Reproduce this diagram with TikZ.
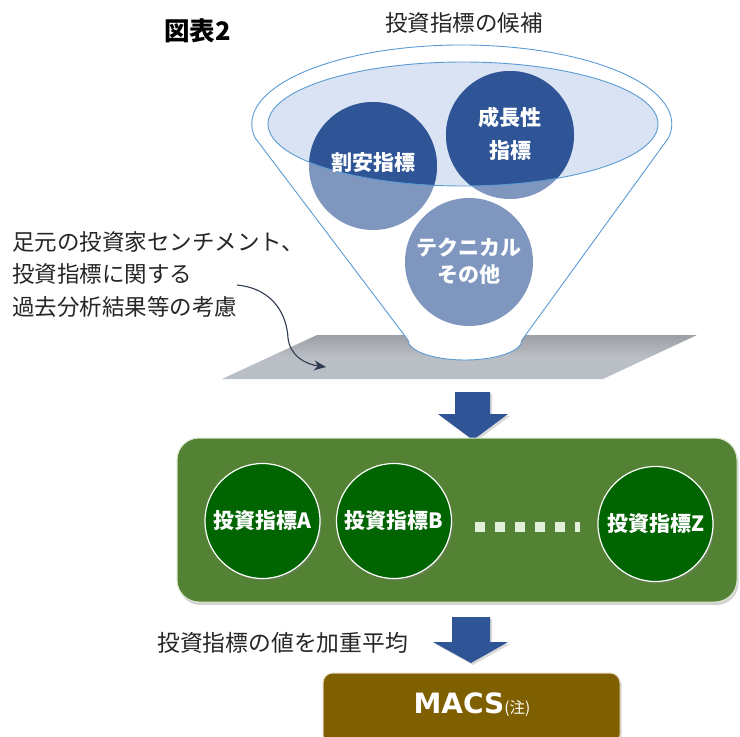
\documentclass[tikz,border=0pt]{standalone}
\usepackage{fontspec}
\setmainfont{Noto Sans CJK JP}
\newfontfamily\verd{DejaVu Sans}
\usetikzlibrary{shadows,arrows.meta}
\definecolor{fblue}{HTML}{5B9BD5}
\definecolor{lblue}{HTML}{DAE3F3}
\definecolor{dblue}{HTML}{2F5597}
\definecolor{mblue}{HTML}{7F96BF}
\definecolor{gboxc}{HTML}{548235}
\definecolor{gcirc}{HTML}{006400}
\definecolor{gsq}{HTML}{E2F0D9}
\definecolor{macsc}{HTML}{7F6000}
\definecolor{txt}{HTML}{262626}
\definecolor{navy}{HTML}{2E3A50}
\definecolor{plA}{HTML}{9C9FA5}
\definecolor{plB}{HTML}{BABEC5}
\begin{document}
\begin{tikzpicture}[x=1pt,y=1pt,
  lbl/.style={text=txt, font=\fontsize{22.5}{26}\selectfont, inner sep=0pt, anchor=west},
  fcirc/.style={circle, minimum size=128pt, inner sep=0pt, fill=mblue},
  ctext/.style={text=white, font=\bfseries\fontsize{21}{24}\selectfont, inner sep=0pt},
  gcircle/.style={circle, minimum size=115pt, fill=gcirc, draw=white, line width=1.2pt, inner sep=0pt, text=white, font=\bfseries\fontsize{21}{24}\selectfont, drop shadow={opacity=0.35, shadow xshift=1.5pt, shadow yshift=-2pt}},
  blockarrow/.style={fill=dblue, drop shadow={opacity=0.3, shadow xshift=2pt, shadow yshift=-2pt}},
  sqbox/.style={fill=gsq, minimum width=10pt, minimum height=10pt, inner sep=0pt}
]
\useasboundingbox (0,0) rectangle (740,-737);

% titles
\node[anchor=west, inner sep=0pt, font=\bfseries\fontsize{25.5}{28}\selectfont] (title) at (164,-31) {図表2};
\node[anchor=west, inner sep=0pt, text=txt, font=\fontsize{22.5}{26}\selectfont] (cand) at (385,-23) {投資指標の候補};

% platform
\shade[top color=plA, bottom color=plB, middle color=plB] (317,-335) -- (697,-335) -- (603,-379) -- (222,-379) -- cycle;

% funnel body
\filldraw[fill=white, draw=fblue, line width=0.9pt]
  (255,-137.7) arc (190:-10:210 and 79) -- (522,-340) arc (0:-180:57 and 20) -- cycle;
% liquid surface
\fill[lblue] (463,-124) ellipse (195 and 62);

% candidate circles
\node[fcirc] (c1) at (373,-166) {};
\node[fcirc] (c2) at (510,-135) {};
\node[fcirc] (c3) at (469,-262) {};
\begin{scope}
  \clip (463,-124) ellipse (195 and 62);
  \fill[dblue] (c1.center) circle (64);
  \fill[dblue] (c2.center) circle (64);
\end{scope}
\draw[fblue, line width=0.9pt] (463,-124) ellipse (195 and 62);

\node[ctext] (t1) at (373,-163) {割安指標};
\node[ctext] (t2a) at (510,-117) {成長性};
\node[ctext] (t2b) at (510,-151) {指標};
\node[ctext] (t3a) at (469,-247) {テクニカル};
\node[ctext] (t3b) at (469,-275) {その他};

% left note
\node[lbl] (n1) at (12,-242) {足元の投資家センチメント、};
\node[lbl] (n2) at (12,-274) {投資指標に関する};
\node[lbl] (n3) at (12,-307) {過去分析結果等の考慮};
\coordinate (ca) at (237,-285);
\coordinate (cb) at (326,-367);
\draw[navy, line width=1.1pt, -{Stealth[length=12pt,width=10pt]}]
  (ca) .. controls (276,-289) and (287,-318) .. (288,-338)
       .. controls (290,-355) and (304,-364) .. (cb);

% arrow 1
\path[blockarrow] (455,-392) -- (490,-392) -- (490,-414) -- (508,-414) -- (473,-440) -- (438,-414) -- (455,-414) -- cycle;

% green box
\node[fill=gboxc, draw={rgb,255:red,215;green,230;blue,205}, line width=1pt, rounded corners=22pt,
      minimum width=560pt, minimum height=164pt, inner sep=0pt,
      drop shadow={opacity=0.35, shadow xshift=1.5pt, shadow yshift=-3pt}] (gbox) at (457,-520) {};
\node[gcircle] (ga) at (262.5,-521) {投資指標A};
\node[gcircle] (gb) at (394,-521) {投資指標B};
\node[gcircle] (gz) at (655.5,-524) {投資指標Z};
\node[sqbox] (s1) at (480,-527) {};
\node[sqbox] (s2) at (500,-527) {};
\node[sqbox] (s3) at (520,-527) {};
\node[sqbox] (s4) at (540,-527) {};
\node[sqbox] (s5) at (560,-527) {};
\node[sqbox, minimum width=5pt] (s6) at (577.5,-527) {};

% arrow 2
\node[lbl, font=\fontsize{22.8}{26}\selectfont] (wavg) at (157,-643) {投資指標の値を加重平均};
\path[blockarrow] (452,-617) -- (490,-617) -- (490,-642) -- (508,-642) -- (471,-663) -- (433,-642) -- (452,-642) -- cycle;

% MACS box
\node[fill=macsc, draw={rgb,255:red,225;green,215;blue,190}, line width=1pt, rounded corners=10pt,
      minimum width=297pt, minimum height=72pt, inner sep=0pt,
      drop shadow={opacity=0.3, shadow xshift=1.5pt, shadow yshift=-2pt}] (macs) at (471.5,-709) {};
\node[text=white, inner sep=0pt] (macst) at (472,-705) {{\verd\bfseries\fontsize{28}{30}\selectfont MACS}{\fontsize{15.5}{17}\selectfont (注)}};
\end{tikzpicture}
\end{document}
